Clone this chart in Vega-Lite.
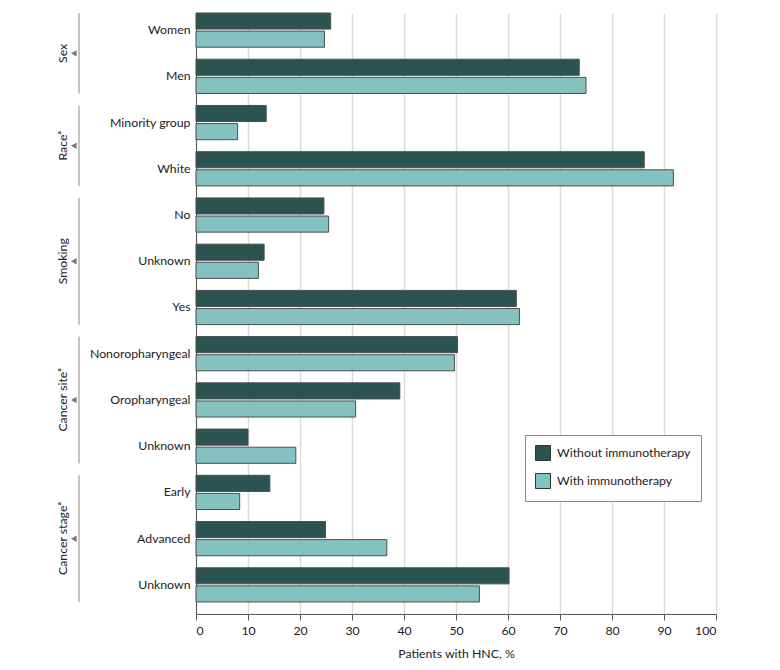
{
  "$schema": "https://vega.github.io/schema/vega-lite/v6.json",
  "width": 520,
  "height": 601,
  "autosize": {"type": "none"},
  "padding": {"left": 196, "top": 13, "right": 64, "bottom": 56},
  "background": "white",
  "config": {
    "font": "Lato",
    "view": {"stroke": null},
    "text": {"font": "Lato"}
  },
  "datasets": {
    "bars": [
      {"key": "Sex|Women", "series": "Without immunotherapy", "pct": 25.9},
      {"key": "Sex|Women", "series": "With immunotherapy", "pct": 24.7},
      {"key": "Sex|Men", "series": "Without immunotherapy", "pct": 73.7},
      {"key": "Sex|Men", "series": "With immunotherapy", "pct": 75.0},
      {"key": "Race|Minority group", "series": "Without immunotherapy", "pct": 13.5},
      {"key": "Race|Minority group", "series": "With immunotherapy", "pct": 8.0},
      {"key": "Race|White", "series": "Without immunotherapy", "pct": 86.2},
      {"key": "Race|White", "series": "With immunotherapy", "pct": 91.8},
      {"key": "Smoking|No", "series": "Without immunotherapy", "pct": 24.6},
      {"key": "Smoking|No", "series": "With immunotherapy", "pct": 25.5},
      {"key": "Smoking|Unknown", "series": "Without immunotherapy", "pct": 13.1},
      {"key": "Smoking|Unknown", "series": "With immunotherapy", "pct": 12.0},
      {"key": "Smoking|Yes", "series": "Without immunotherapy", "pct": 61.6},
      {"key": "Smoking|Yes", "series": "With immunotherapy", "pct": 62.2},
      {"key": "Site|Nonoropharyngeal", "series": "Without immunotherapy", "pct": 50.3},
      {"key": "Site|Nonoropharyngeal", "series": "With immunotherapy", "pct": 49.7},
      {"key": "Site|Oropharyngeal", "series": "Without immunotherapy", "pct": 39.2},
      {"key": "Site|Oropharyngeal", "series": "With immunotherapy", "pct": 30.7},
      {"key": "Site|Unknown", "series": "Without immunotherapy", "pct": 10.0},
      {"key": "Site|Unknown", "series": "With immunotherapy", "pct": 19.2},
      {"key": "Stage|Early", "series": "Without immunotherapy", "pct": 14.2},
      {"key": "Stage|Early", "series": "With immunotherapy", "pct": 8.4},
      {"key": "Stage|Advanced", "series": "Without immunotherapy", "pct": 24.9},
      {"key": "Stage|Advanced", "series": "With immunotherapy", "pct": 36.7},
      {"key": "Stage|Unknown", "series": "Without immunotherapy", "pct": 60.2},
      {"key": "Stage|Unknown", "series": "With immunotherapy", "pct": 54.5}
    ],
    "groups": [
      {"label": "Sex", "first": "Sex|Women", "last": "Sex|Men", "mid": "Sex|Women", "rows": 2},
      {"label": "Raceᵃ", "first": "Race|Minority group", "last": "Race|White", "mid": "Race|Minority group", "rows": 2},
      {"label": "Smoking", "first": "Smoking|No", "last": "Smoking|Yes", "mid": "Smoking|Unknown", "rows": 3},
      {"label": "Cancer siteᵃ", "first": "Site|Nonoropharyngeal", "last": "Site|Unknown", "mid": "Site|Oropharyngeal", "rows": 3},
      {"label": "Cancer stageᵃ", "first": "Stage|Early", "last": "Stage|Unknown", "mid": "Stage|Advanced", "rows": 3}
    ]
  },
  "layer": [
    {
      "data": {"name": "bars"},
      "mark": {"type": "bar", "stroke": "#4d4d4d", "strokeWidth": 1},
      "encoding": {
        "y": {
          "field": "key", "type": "nominal",
          "scale": {
            "domain": ["Sex|Women", "Sex|Men", "Race|Minority group", "Race|White", "Smoking|No", "Smoking|Unknown", "Smoking|Yes", "Site|Nonoropharyngeal", "Site|Oropharyngeal", "Site|Unknown", "Stage|Early", "Stage|Advanced", "Stage|Unknown"],
            "paddingInner": 0.26, "paddingOuter": 0.13, "align": 0
          },
          "axis": {
            "title": null,
            "labelExpr": "split(datum.value, '|')[1]",
            "labelFontSize": 12.3,
            "labelColor": "#222222",
            "labelPadding": 6,
            "ticks": false,
            "domain": true,
            "domainColor": "#555555",
            "domainWidth": 1,
            "grid": false
          }
        },
        "yOffset": {
          "field": "series", "type": "nominal",
          "scale": {"domain": ["Without immunotherapy", "With immunotherapy"], "paddingInner": 0.111, "paddingOuter": 0}
        },
        "x": {
          "field": "pct", "type": "quantitative",
          "scale": {"domain": [0, 100], "nice": false, "zero": true},
          "axis": {
            "title": "Patients with HNC, %",
            "titleFontSize": 12.3,
            "titleFontWeight": "normal",
            "titleColor": "#222222",
            "titlePadding": 11,
            "values": [0, 10, 20, 30, 40, 50, 60, 70, 80, 90, 100],
            "labelFontSize": 12.3,
            "labelColor": "#222222",
            "labelPadding": 4,
            "tickSize": 6,
            "tickColor": "#555555",
            "domainColor": "#555555",
            "grid": true,
            "gridColor": "#dcdcdc",
            "gridWidth": 1.5
          }
        },
        "color": {
          "field": "series", "type": "nominal",
          "scale": {"domain": ["Without immunotherapy", "With immunotherapy"], "range": ["#2b5352", "#84c2c1"]},
          "legend": {
            "title": null,
            "orient": "none",
            "legendX": 329,
            "legendY": 422,
            "strokeColor": "#8a8a8a",
            "fillColor": "white",
            "padding": 10,
            "symbolType": "square",
            "symbolSize": 225,
            "symbolStrokeColor": "#333333",
            "symbolStrokeWidth": 1,
            "labelFontSize": 12.3,
            "labelColor": "#222222",
            "labelOffset": 6,
            "rowPadding": 8
          }
        }
      }
    },
    {
      "data": {"name": "groups"},
      "mark": {"type": "rule", "color": "#8a8a8a", "strokeWidth": 1},
      "encoding": {
        "x": {"datum": -22.5, "type": "quantitative"},
        "y": {"field": "first", "type": "nominal", "bandPosition": 0},
        "y2": {"field": "last", "bandPosition": 1}
      }
    },
    {
      "data": {"name": "groups"},
      "transform": [{"filter": "datum.rows == 2"}],
      "layer": [
        {
          "mark": {"type": "point", "shape": "triangle-left", "filled": true, "color": "#777777", "size": 42, "opacity": 1},
          "encoding": {
            "x": {"datum": -23.5, "type": "quantitative"},
            "y": {"field": "mid", "type": "nominal", "bandPosition": 1.18}
          }
        },
        {
          "mark": {"type": "text", "angle": 270, "align": "center", "baseline": "middle", "fontSize": 12.3, "color": "#222222"},
          "encoding": {
            "x": {"datum": -25.6, "type": "quantitative"},
            "y": {"field": "mid", "type": "nominal", "bandPosition": 1.18},
            "text": {"field": "label"}
          }
        }
      ]
    },
    {
      "data": {"name": "groups"},
      "transform": [{"filter": "datum.rows == 3"}],
      "layer": [
        {
          "mark": {"type": "point", "shape": "triangle-left", "filled": true, "color": "#777777", "size": 42, "opacity": 1},
          "encoding": {
            "x": {"datum": -23.5, "type": "quantitative"},
            "y": {"field": "mid", "type": "nominal", "bandPosition": 0.5}
          }
        },
        {
          "mark": {"type": "text", "angle": 270, "align": "center", "baseline": "middle", "fontSize": 12.3, "color": "#222222"},
          "encoding": {
            "x": {"datum": -25.6, "type": "quantitative"},
            "y": {"field": "mid", "type": "nominal", "bandPosition": 0.5},
            "text": {"field": "label"}
          }
        }
      ]
    }
  ]
}
